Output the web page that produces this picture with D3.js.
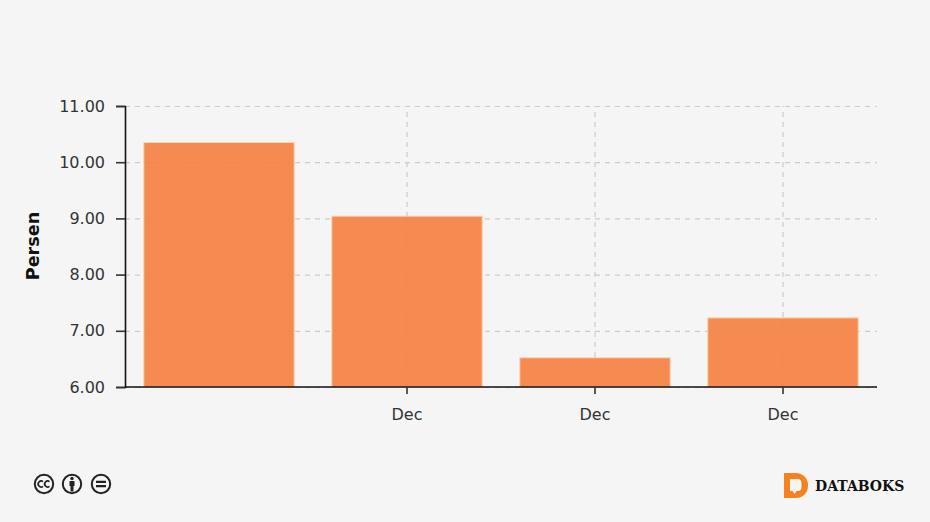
<!DOCTYPE html>
<html lang="en">
<head>
<meta charset="UTF-8">
<title>Persen</title>
<script src="https://d3js.org/d3.v7.min.js"></script>
<style>
    html, body { margin: 0; padding: 0; background: #f5f5f5; overflow: hidden; }
    svg { display: block; font-family: 'DejaVu Sans', sans-serif; }
    .tick text { font-family: 'DejaVu Sans', sans-serif; font-size: 16px; fill: #333; }
    .grid line { stroke: #ccc; stroke-width: 1.2; stroke-dasharray: 5 5; }
    .grid path { display: none; }
</style>
</head>
<body>
<svg id="chart" width="930" height="522"></svg>
<script>
// values, first bar has no label in the original
const barIds = [0, 1, 2, 3];
const barLabels = ["", "Dec", "Dec", "Dec"];
const barValues = [10.35, 9.04, 6.52, 7.23];
const yTicks = [6, 7, 8, 9, 10, 11];

const svg = d3.select("#chart");
const margin = { top: 106, right: 53, bottom: 135, left: 125 };
const width = 930, height = 522;

const x = d3.scaleBand()
    .domain(barIds)
    .range([margin.left, width - margin.right])
    .paddingInner(0.2)
    .paddingOuter(0.1);

const y = d3.scaleLinear()
    .domain([6, 11])
    .range([height - margin.bottom, margin.top]);

const labelled = barIds.filter(d => barLabels[d] !== "");

// grid
svg.append("g").attr("class", "grid")
    .attr("transform", `translate(${margin.left},0)`)
    .call(d3.axisLeft(y).tickValues(yTicks).tickSize(-(width - margin.left - margin.right)).tickFormat(""));
svg.append("g").attr("class", "grid")
    .attr("transform", `translate(0,${height - margin.bottom})`)
    .call(d3.axisBottom(x).tickValues(labelled).tickSize(-(height - margin.top - margin.bottom)).tickFormat(""));

// bars
svg.selectAll(".bar")
    .data(barIds)
    .enter()
    .append("rect")
    .attr("class", "bar")
    .attr("x", d => x(d))
    .attr("width", x.bandwidth())
    .attr("y", d => y(barValues[d]))
    .attr("height", d => y(6) - y(barValues[d]))
    .attr("fill", "#f57f3e")
    .attr("fill-opacity", 0.9)
    .attr("stroke", "#fbd3b6")
    .attr("stroke-width", 1);

// axes
const yAxis = svg.append("g")
    .attr("transform", `translate(${margin.left},0)`)
    .call(d3.axisLeft(y).tickValues(yTicks).tickSize(9).tickPadding(11).tickFormat(d3.format(".2f")));
const xAxis = svg.append("g")
    .attr("transform", `translate(0,${height - margin.bottom})`)
    .call(d3.axisBottom(x).tickValues(labelled).tickSize(7).tickPadding(15).tickFormat(d => barLabels[d]));
[yAxis, xAxis].forEach(a => {
    a.selectAll("path").attr("stroke", "#111").attr("stroke-width", 1.6);
    a.selectAll("line").attr("stroke", "#333").attr("stroke-width", 1.6);
});
xAxis.select("path").attr("d", `M${margin.left},0H${width - margin.right}`);

svg.append("text")
    .attr("transform", "translate(39,246) rotate(-90)")
    .attr("text-anchor", "middle")
    .attr("font-size", 17.6)
    .attr("font-weight", "bold")
    .attr("fill", "#111")
    .text("Persen");

// creative commons icons
const icons = svg.append("g").attr("fill", "none").attr("stroke", "#222");
[44, 72, 101].forEach(cx => {
    icons.append("circle").attr("cx", cx).attr("cy", 484).attr("r", 9.2).attr("stroke-width", 2).attr("fill", "#f5f5f5");
});
// cc
icons.append("path").attr("stroke-width", 1.7)
    .attr("d", "M43,481.6a3,3 0 1 0 0,4.8M49.5,481.6a3,3 0 1 0 0,4.8");
// person
icons.append("circle").attr("cx", 72).attr("cy", 478.5).attr("r", 1.7).attr("fill", "#222").attr("stroke", "none");
icons.append("path").attr("fill", "#222").attr("stroke", "none")
    .attr("d", "M69.5,481h5v5h-1v5.5h-3v-5.5h-1z");
// equals
icons.append("path").attr("stroke-width", 2.2).attr("d", "M96,481.8h10M96,486.2h10");

// databoks logo
const logo = svg.append("g");
logo.append("path").attr("fill", "#f58220").attr("fill-rule", "evenodd")
    .attr("d", "M784,473h12a12,12 0 0 1 12,12v1a12,12 0 0 1 -12,12h-12zM790,479v12h2.5l2,3l2,-3h1a4,4 0 0 0 4,-4v-4a4,4 0 0 0 -4,-4z");
svg.append("text")
    .attr("x", 815).attr("y", 491)
    .attr("font-family", "'DejaVu Serif', serif")
    .attr("font-size", 14)
    .attr("font-weight", "bold")
    .attr("fill", "#111")
    .text("DATABOKS");
</script>
</body>
</html>
